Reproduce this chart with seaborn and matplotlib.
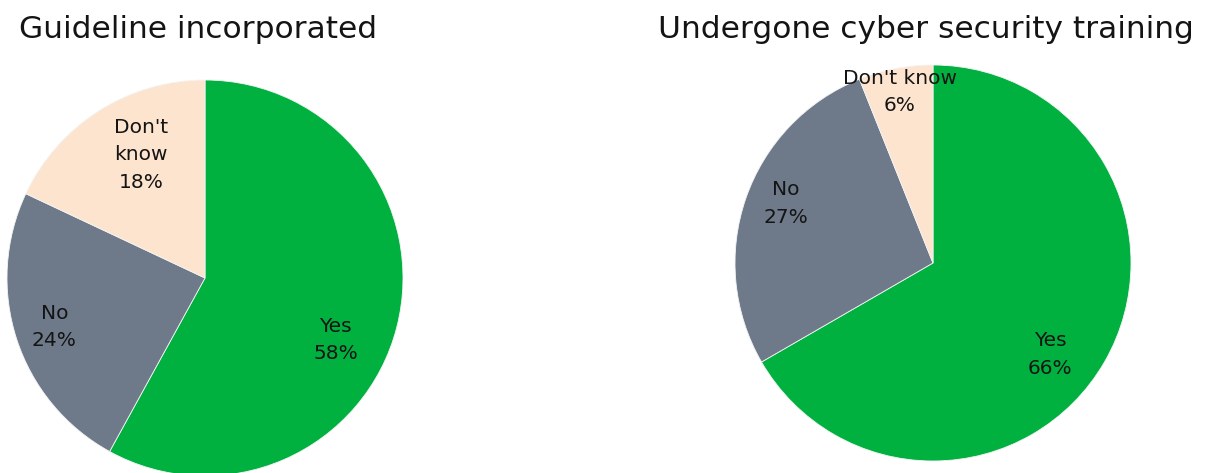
import numpy as np
import matplotlib
matplotlib.use('Agg')
import matplotlib.pyplot as plt
import seaborn as sns

# Survey answers for the two questions
categories = ['Yes', 'No', "Don't know"]
guideline_pct = [58, 24, 18]
training_pct = [66, 27, 6]

titles = ['Guideline incorporated', 'Undergone cyber security training']
guideline_labels = ['Yes', 'No', "Don't\nknow"]
training_labels = ['Yes', 'No', "Don't know"]

colors = ['#00B140', '#6E7A8A', '#FDE4CF']

sns.set_theme(style='white')
plt.rcParams['font.family'] = ['DejaVu Sans']

W, H = 1207, 473
fig = plt.figure(figsize=(W / 100, H / 100), dpi=100)


def draw_pie(center, radius, values, labels, title, dists, nudges):
    cx, cy = center
    ax = fig.add_axes([(cx - radius) / W, 1 - (cy + radius) / H,
                       2 * radius / W, 2 * radius / H])
    wedges, _ = ax.pie(values, colors=colors, startangle=90, counterclock=False,
                       radius=1, wedgeprops=dict(linewidth=0.6, edgecolor='#f4f4f4'))
    ax.set_xlim(-1, 1)
    ax.set_ylim(-1, 1)
    ax.axis('off')
    for w, lab, v, d, nd in zip(wedges, labels, values, dists, nudges):
        ang = np.deg2rad((w.theta1 + w.theta2) / 2 + nd)
        ax.text(d * np.cos(ang), d * np.sin(ang), f'{lab}\n{v}%',
                ha='center', va='center', fontsize=14.5, color='#141414',
                linespacing=1.55)
    # titles sit a little left of the pie centre
    fig.text((cx - 7) / W, 1 - 38 / H, title, ha='center', va='baseline',
             fontsize=22.5, color='#141414')
    return ax


draw_pie((205, 278), 198, guideline_pct, guideline_labels, titles[0],
         dists=[0.73, 0.80, 0.70], nudges=[-11, 0, -5])
draw_pie((933, 263), 198, training_pct, training_labels, titles[1],
         dists=[0.75, 0.80, 0.88], nudges=[-8, -3, 0])

fig.savefig('out.png', dpi=100, facecolor='white')
